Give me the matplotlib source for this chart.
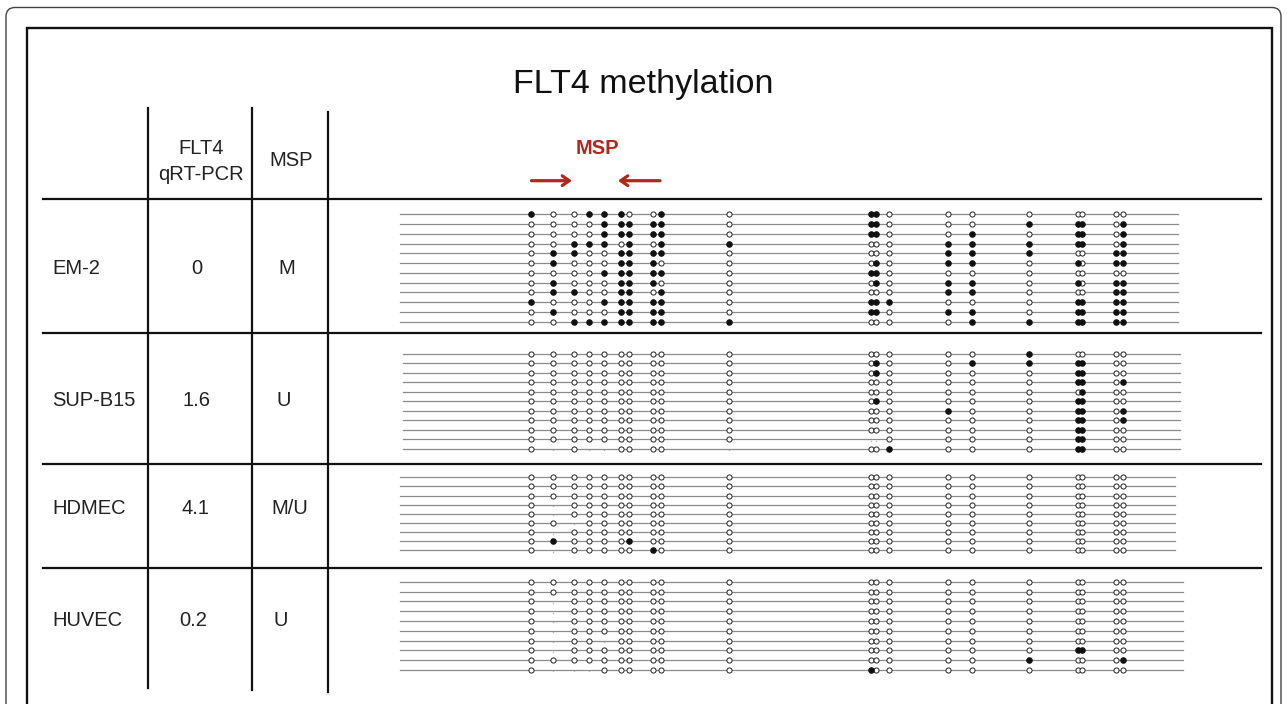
import matplotlib
matplotlib.use("Agg")
import matplotlib.pyplot as plt
from matplotlib.patches import FancyBboxPatch

plt.rcParams['font.family'] = ['Liberation Sans', 'DejaVu Sans']

# CpG site positions along the FLT4 promoter amplicon (drawing units)
cpg_pos = [531, 553, 574, 589, 604, 621, 629, 653, 661, 729,
           871, 876, 889, 948, 972, 1029, 1078, 1082, 1116, 1123]

cell_lines = ["EM-2", "SUP-B15", "HDMEC", "HUVEC"]
qrt_pcr = ["0", "1.6", "4.1", "0.2"]
msp_status = ["M", "U", "M/U", "U"]

# One string per sequenced clone: '1' methylated, '0' unmethylated, '.' no call
em2_clones = [
    "1001110010" "1100000000",
    "0000111110" "1100011101",
    "0000111110" "1100101101",
    "0011101011" "0001111101",
    "0110011110" "0001110011",
    "0100011100" "0101101011",
    "0000111110" "1100000000",
    "0100011100" "0101101011",
    "0110011010" "0001100011",
    "1000111110" "1110001111",
    "0100011110" "1101101111",
    "0011111111" "0000111111",
]
supb15_clones = [
    "0000000000" "0000010000",
    "0000000000" "0100111100",
    "0000000000" "0100001100",
    "0000000000" "0000001101",
    "0000000000" "0000000100",
    "0000000000" "0100001100",
    "0000000000" "0001001101",
    "0000000000" "0000001101",
    "0000000000" "0000001100",
    "0000000000" "..00001100",
    "0.0..0000." "0010001100",
]
hdmec_clones = [
    "0000000000" "0000000000",
    "0000000000" "0000000000",
    "0000000000" "0000000000",
    "0.00000000" "0000000000",
    "0.00000000" "0000000000",
    "00.0000000" "0000000000",
    "0.00000000" "0000000000",
    "0100001000" "0000000000",
    "0.00000100" "0000000000",
]
huvec_clones = [
    "0000000000" "0000000000",
    "0000000000" "0000000000",
    "0.00000000" "0000000000",
    "0.00000000" "0000000000",
    "0.00000000" "0000000000",
    "0.00000000" "0000000000",
    "0.00.00000" "0000000000",
    "0.00000000" "0000001100",
    "0000000000" "0000010001",
    "0...000000" "1000000000",
]
clone_sets = [em2_clones, supb15_clones, hdmec_clones, huvec_clones]

# ---- layout (pixel-like drawing units, y grows downward) ----
W, H = 1287, 704
block_top = [214.3, 354.0, 477.3, 581.7]
block_step = [9.76, 9.47, 9.13, 9.8]
line_span = [(400, 1178), (403, 1180), (400, 1175), (400, 1183)]
label_y = [268, 401, 508, 620]
qrt_x = [197, 197, 196, 193]
msp_x = [287, 284, 290, 281]
sep_y = [198.7, 333, 464, 567.7]

fig = plt.figure(figsize=(W / 100, H / 100), dpi=100)
ax = fig.add_axes([0, 0, 1, 1])
ax.set_xlim(0, W)
ax.set_ylim(H, 0)
ax.axis('off')

# outer rounded panel and inner frame
ax.add_patch(FancyBboxPatch((6, 7.5), 1275, 740,
                            boxstyle="round,pad=0,rounding_size=9",
                            fc='white', ec='#444444', lw=1.0, zorder=0))
ax.plot([26.5, 26.5, 1272, 1272], [H + 5, 28, 28, H + 5],
        color='#111111', lw=1.7, solid_joinstyle='miter', zorder=1)

# table grid
for y in sep_y:
    ax.plot([43, 1261], [y, y], color='#111111', lw=1.6, zorder=1)
ax.plot([148.3, 148.3], [108, 688], color='#111111', lw=1.6, zorder=1)
ax.plot([251.7, 251.7], [108, 690], color='#111111', lw=1.6, zorder=1)
ax.plot([327.7, 327.7], [111.7, 692], color='#111111', lw=1.6, zorder=1)

# titles and header
ax.text(643, 85, "FLT4 methylation", ha='center', va='center',
        fontsize=24.5, color='#111111')
ax.text(201, 148, "FLT4", ha='center', va='center', fontsize=14.5,
        color='#222222')
ax.text(201, 174, "qRT-PCR", ha='center', va='center', fontsize=14.5,
        color='#222222')
ax.text(291.5, 160, "MSP", ha='center', va='center', fontsize=14.5,
        color='#222222')

# MSP primer annotation
red = '#b3261e'
ax.text(597, 148.5, "MSP", ha='center', va='center', fontsize=14.5,
        fontweight='bold', color=red)
arrow_kw = dict(arrowstyle='->,head_length=0.5,head_width=0.35',
                color=red, lw=2.3, shrinkA=0, shrinkB=0)
ax.annotate("", xy=(572, 180.7), xytext=(531.5, 180.7), arrowprops=arrow_kw)
ax.annotate("", xy=(618, 180.7), xytext=(660, 180.7), arrowprops=arrow_kw)

# row labels and values
for i, name in enumerate(cell_lines):
    ax.text(52, label_y[i], name, ha='left', va='center', fontsize=14.5,
            color='#222222')
    ax.text(qrt_x[i], label_y[i], qrt_pcr[i], ha='center', va='center',
            fontsize=14.5, color='#222222')
    ax.text(msp_x[i], label_y[i], msp_status[i], ha='center', va='center',
            fontsize=14.5, color='#222222')

# lollipop rows
for b, clones in enumerate(clone_sets):
    x0, x1 = line_span[b]
    for r, clone in enumerate(clones):
        y = block_top[b] + r * block_step[b]
        ax.plot([x0, x1], [y, y], color='#8c8c8c', lw=0.9, zorder=2)
        open_x = [cpg_pos[k] for k, c in enumerate(clone) if c == '0']
        fill_x = [cpg_pos[k] for k, c in enumerate(clone) if c == '1']
        miss_x = [cpg_pos[k] for k, c in enumerate(clone) if c == '.']
        ax.plot(open_x, [y] * len(open_x), ls='none', marker='o', ms=3.7,
                mfc='white', mec='#222222', mew=0.7, zorder=3)
        ax.plot(fill_x, [y] * len(fill_x), ls='none', marker='o', ms=4.0,
                mfc='#111111', mec='#111111', mew=0.7, zorder=3)
        ax.plot(miss_x, [y + 1.5] * len(miss_x), ls='none', marker='o',
                ms=1.0, mfc='#b0b0b0', mec='none', zorder=3)

fig.savefig("out.png", dpi=100)
